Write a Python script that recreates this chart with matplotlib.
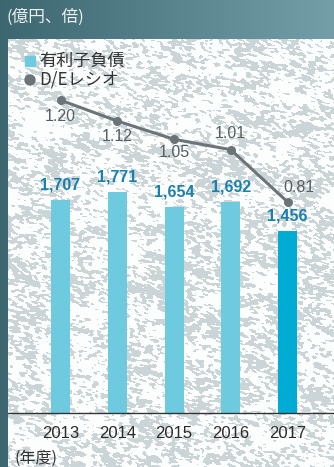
import numpy as np
import matplotlib
matplotlib.use("Agg")
import matplotlib.pyplot as plt

plt.rcParams['font.family'] = ['Liberation Sans', 'Noto Sans CJK JP', 'DejaVu Sans']

# ---- data ----
years = ["2013", "2014", "2015", "2016", "2017"]
debt = [1707, 1771, 1654, 1692, 1456]          # 有利子負債 (億円)
de_ratio = [1.20, 1.12, 1.05, 1.01, 0.81]        # D/Eレシオ (倍)
de_labels = ["1.20", "1.12", "1.05", "1.01", "0.81"]

W, H = 334, 467
DPI = 100
fig = plt.figure(figsize=(W / DPI, H / DPI), dpi=DPI)

# ---- background: teal frame with a mottled paper panel ----
yy, xx = np.mgrid[0:H, 0:W]
c_left = np.array([0x3c, 0x66, 0x70]) / 255
c_right = np.array([0x74, 0x9e, 0xa8]) / 255
t = (xx / W)[..., None]
bg = c_left * (1 - t) + c_right * t


def blurred_noise(rng, sx, sy, angle):
    n = rng.standard_normal((H, W))
    fy = np.fft.fftfreq(H)[:, None]
    fx = np.fft.fftfreq(W)[None, :]
    u = fx * np.cos(angle) + fy * np.sin(angle)
    v = -fx * np.sin(angle) + fy * np.cos(angle)
    k = np.exp(-2 * np.pi ** 2 * ((u * sx) ** 2 + (v * sy) ** 2))
    out = np.real(np.fft.ifft2(np.fft.fft2(n) * k))
    return out / out.std()


rng = np.random.default_rng(11)
fine = blurred_noise(rng, 1.6, 0.8, 0.25)
coarse = blurred_noise(rng, 9.0, 4.0, 0.35)
field = fine + 0.55 * coarse
spots = field > np.quantile(field, 0.6)
paper = np.ones((H, W, 3)) * (np.array([0xfc, 0xfd, 0xfd]) / 255)
paper[spots] = np.array([0xcb, 0xd5, 0xd8]) / 255

panel = (xx >= 8) & (yy >= 39)
bg[panel] = paper[panel]

ax_bg = fig.add_axes([0, 0, 1, 1])
ax_bg.imshow(bg, extent=(0, W, H, 0), interpolation="nearest", aspect="auto")
ax_bg.set_xlim(0, W)
ax_bg.set_ylim(H, 0)
ax_bg.axis("off")

# ---- chart axes ----
x0, x1 = 8, 334
ytop, ybot = 39, 413
ax = fig.add_axes([x0 / W, (H - ybot) / H, (x1 - x0) / W, (ybot - ytop) / H])
ax.patch.set_alpha(0)

xpos = np.arange(len(years))
step = 56.75
ax.set_xlim(-(60.5 - x0) / step, 4 + (x1 - 287.5) / step)
bar_colors = ["#6ecbdf"] * 4 + ["#00acd4"]
ax.bar(xpos, debt, width=19 / step, color=bar_colors, zorder=2)
ax.set_ylim(0, (ybot - ytop) / 0.1248)

for x, val in zip(xpos, debt):
    ax.annotate(f"{val:,}", (x, val), xytext=(0, 10.8), textcoords="offset points",
                ha="center", va="center", fontsize=11.5, fontweight="bold",
                color="#1b80ac", zorder=5)

for s in ["top", "right", "left"]:
    ax.spines[s].set_visible(False)
ax.spines["bottom"].set_color("#333333")
ax.spines["bottom"].set_linewidth(1.0)
ax.set_yticks([])
ax.set_xticks(xpos)
ax.set_xticklabels(years, fontsize=12, color="#2a2a2a")
ax.tick_params(axis="x", length=0, pad=9)

# D/E ratio line on its own scale sharing the baseline
ax2 = ax.twinx()
ax2.set_ylim(0, (ybot - ytop) / 260.7)
ax2.plot(xpos, de_ratio, color="#6b7479", linewidth=2.2, marker="o",
         markersize=5.5, zorder=4)
ax2.axis("off")
offsets = [(0, -11.5), (0, -11.5), (0, -9.5), (0, 11.5), (8.5, 10.5)]
for x, val, lab, off in zip(xpos, de_ratio, de_labels, offsets):
    ax2.annotate(lab, (x, val), xytext=off, textcoords="offset points",
                 ha="center", va="center", fontsize=11.5, color="#555d63")

# ---- legend ----
cjk = ['Noto Sans CJK JP', 'DejaVu Sans']
ax_bg.add_patch(plt.Rectangle((25, 56), 10, 10, color="#6ecbdf", zorder=3))
ax_bg.add_patch(plt.Circle((30, 80), 5, color="#6b7479", zorder=3))
ax_bg.text(39, 61, "有利子負債", fontsize=12.3, color="#333333", va="center",
           ha="left", family=cjk)
ax_bg.text(39, 80, "D/Eレシオ", fontsize=12.3, color="#333333", va="center",
           ha="left", family=cjk)

# ---- unit captions ----
ax_bg.text(7, 17, "(億円、倍)", fontsize=12, color="#eef3f4", va="center",
           ha="left", family=cjk)
ax_bg.text(14, 458, "(年度)", fontsize=11.5, color="#333333", va="center",
           ha="left", family=cjk)

fig.savefig("out.png", dpi=DPI)
